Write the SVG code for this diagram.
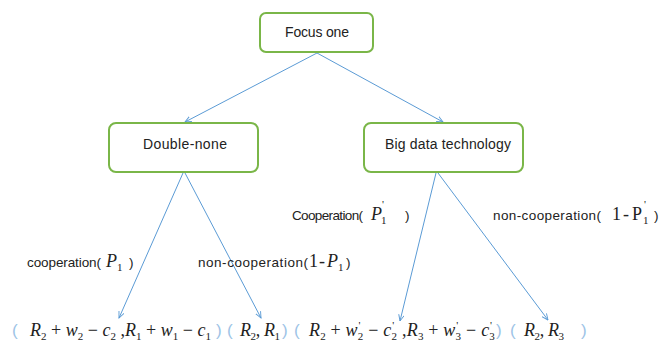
<svg xmlns="http://www.w3.org/2000/svg" width="660" height="342" viewBox="0 0 660 342">
<defs>
<marker id="ah" viewBox="0 0 10 10" refX="9" refY="5" markerWidth="7" markerHeight="7" orient="auto" markerUnits="userSpaceOnUse">
<path d="M0,1 L9,5 L0,9" fill="none" stroke="#5b9bd5" stroke-width="1.3"/>
</marker>
<style>
.box{fill:#fff;stroke:#7ab648;stroke-width:2}
.nt{font-family:"Liberation Sans",Arial,sans-serif;font-size:14px;fill:#222}
.lb{font-family:"Liberation Sans",Arial,sans-serif;font-size:13.5px;fill:#222}
.m{font-family:"Liberation Serif","Times New Roman",serif;font-size:18px;font-style:italic;fill:#222}
.mn{font-style:normal}
.s{font-size:11px}
.br{font-family:"Liberation Sans",Arial,sans-serif;font-size:17px;fill:#9dc3e6}
.ln{stroke:#5b9bd5;stroke-width:1;fill:none;marker-end:url(#ah)}
</style>
</defs>
<rect width="660" height="342" fill="#fff"/>
<g id="connectors">
<line class="ln" x1="317" y1="53" x2="185" y2="122"/>
<line class="ln" x1="317" y1="53" x2="443" y2="122"/>
<line class="ln" x1="183" y1="173" x2="119" y2="318"/>
<line class="ln" x1="185" y1="173" x2="261" y2="318"/>
<line class="ln" x1="436" y1="173" x2="400" y2="321"/>
<line class="ln" x1="438" y1="173" x2="548" y2="320"/>
</g>
<g id="focus">
<rect class="box" x="260" y="13" width="113" height="39" rx="6"/>
<text class="nt" x="285" y="37" textLength="64">Focus one</text>
</g>
<g id="double">
<rect class="box" x="109" y="123" width="149" height="49" rx="7"/>
<text class="nt" x="143" y="149" textLength="84">Double-none</text>
</g>
<g id="bigdata">
<rect class="box" x="364" y="123" width="159" height="49" rx="7"/>
<text class="nt" x="385" y="149" textLength="126">Big data technology</text>
</g>
<g id="labels">
<text class="lb" x="27" y="267" textLength="74">cooperation(</text>
<text class="m" x="106" y="267">P</text><text class="m mn s" x="117" y="271">1</text>
<text class="lb" x="129" y="267">)</text>
<text class="lb" x="198" y="267" textLength="110">non-cooperation(</text>
<text class="m mn" x="309" y="267">1</text><text class="m mn" x="319" y="267" font-size="16">-</text>
<text class="m" x="327" y="267">P</text><text class="m mn s" x="338" y="271">1</text>
<text class="lb" x="346" y="267">)</text>
<text class="lb" x="292" y="220" textLength="71">Cooperation(</text>
<text class="m" x="371" y="220">P</text><text class="m mn s" x="381" y="224">1</text><text class="m mn s" x="382" y="208">'</text>
<text class="lb" x="405" y="220">)</text>
<text class="lb" x="493" y="220" textLength="108">non-cooperation(</text>
<text class="m mn" x="612" y="220">1</text><text class="m mn" x="623" y="220" font-size="16">-</text>
<text class="m mn" x="632" y="220">P</text><text class="m mn s" x="643" y="224">1</text><text class="m mn s" x="644" y="208">'</text>
<text class="lb" x="654" y="220">)</text>
</g>
<g id="payoffs">
<text class="br" x="12" y="336">(</text>
<text class="m" x="30" y="336" textLength="181" lengthAdjust="spacing">R<tspan class="mn s" dy="4">2</tspan><tspan class="mn" dy="-4"> + </tspan>w<tspan class="mn s" dy="4">2</tspan><tspan class="mn" dy="-4"> − </tspan>c<tspan class="mn s" dy="4">2</tspan><tspan class="mn" dy="-4"> ,</tspan>R<tspan class="mn s" dy="4">1</tspan><tspan class="mn" dy="-4"> + </tspan>w<tspan class="mn s" dy="4">1</tspan><tspan class="mn" dy="-4"> − </tspan>c<tspan class="mn s" dy="4">1</tspan></text>
<text class="br" x="216" y="336">)</text>
<text class="br" x="227" y="336">(</text>
<text class="m" x="240" y="336" textLength="40" lengthAdjust="spacing">R<tspan class="mn s" dy="4">2</tspan><tspan class="mn" dy="-4">, </tspan>R<tspan class="mn s" dy="4">1</tspan></text>
<text class="br" x="282" y="336">)</text>
<text class="br" x="294" y="336">(</text>
<text class="m" x="309" y="336" textLength="186" lengthAdjust="spacing">R<tspan class="mn s" dy="4">2</tspan><tspan class="mn" dy="-4"> + </tspan>w<tspan class="mn s" dy="4">2</tspan><tspan class="mn s" dx="-5" dy="-11">'</tspan><tspan class="mn" dx="3" dy="7"> − </tspan>c<tspan class="mn s" dy="4">2</tspan><tspan class="mn s" dx="-5" dy="-11">'</tspan><tspan class="mn" dx="3" dy="7"> ,</tspan>R<tspan class="mn s" dy="4">3</tspan><tspan class="mn" dy="-4"> + </tspan>w<tspan class="mn s" dy="4">3</tspan><tspan class="mn s" dx="-5" dy="-11">'</tspan><tspan class="mn" dx="3" dy="7"> − </tspan>c<tspan class="mn s" dy="4">3</tspan><tspan class="mn s" dx="-5" dy="-11">'</tspan></text>
<text class="br" x="496" y="336">)</text>
<text class="br" x="510" y="336">(</text>
<text class="m" x="524" y="336" textLength="40" lengthAdjust="spacing">R<tspan class="mn s" dy="4">2</tspan><tspan class="mn" dy="-4">, </tspan>R<tspan class="mn s" dy="4">3</tspan></text>
<text class="br" x="581" y="336">)</text>
</g>
</svg>
